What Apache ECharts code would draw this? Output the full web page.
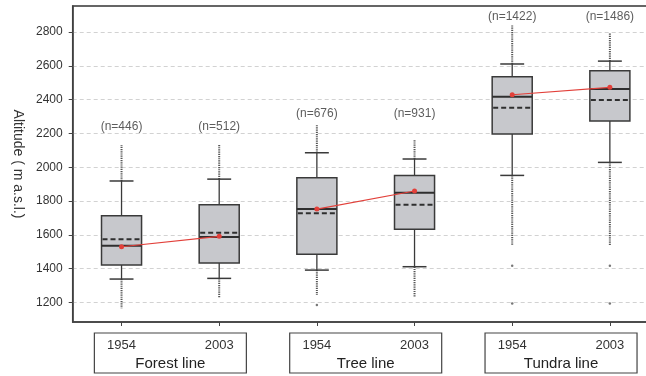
<!DOCTYPE html>
<html>
<head>
<meta charset="utf-8">
<script src="https://cdn.jsdelivr.net/npm/echarts@6/dist/echarts.min.js"></script>
<style>
html,body{margin:0;padding:0;background:#fff;overflow:hidden;}
#chart{width:662px;height:376px;}
</style>
</head>
<body>
<div id="chart"></div>
<script>
// ---- data ----
const categories   = ['1954', '2003', '1954', '2003', '1954', '2003'];
const groups       = ['Forest line', 'Tree line', 'Tundra line'];
const yTicks       = [1200, 1400, 1600, 1800, 2000, 2200, 2400, 2600, 2800];
const whiskerLow   = [1339, 1343, 1392, 1412, 1952, 2029];
const q1           = [1422, 1434, 1485, 1633, 2197, 2274];
const medianSolid  = [1536, 1587, 1753, 1850, 2417, 2463];
const meanDashed   = [1574, 1613, 1728, 1778, 2352, 2398];
const q3           = [1713, 1778, 1938, 1952, 2536, 2571];
const whiskerHigh  = [1919, 1930, 2086, 2049, 2611, 2628];
const outlierMin   = [1166, 1225, 1244, 1231, 1540, 1540];
const outlierMax   = [2132, 2132, 2254, 2161, 2841, 2798];
const isolatedOutliers = [[2, 1185], [4, 1418], [4, 1195], [5, 1418], [5, 1195]];
const redPoint     = [1530, 1592, 1753, 1860, 2429, 2473];
const nLabels      = ['(n=446)', '(n=512)', '(n=676)', '(n=931)', '(n=1422)', '(n=1486)'];
const nLabelY      = [2238, 2238, 2319, 2319, 2892, 2892];

const FONT = 'Liberation Sans, Arial, sans-serif';
const DARK = '#3a3a3a';

const boxData = categories.map((c, i) => [i, whiskerLow[i], q1[i], medianSolid[i], meanDashed[i], q3[i], whiskerHigh[i], outlierMin[i], outlierMax[i]]);

function renderBox(params, api) {
  const i = api.value(0);
  const band = api.size([1, 0])[0];
  const x = api.coord([i, 0])[0];
  const Y = v => api.coord([i, v])[1];
  const bw = band * 0.41, cw = band * 0.245;
  const wl = api.value(1), lq = api.value(2), md = api.value(3), mn = api.value(4),
        uq = api.value(5), wh = api.value(6), omin = api.value(7), omax = api.value(8);
  const solid = {stroke: DARK, lineWidth: 1.3};
  const dots = {stroke: '#555', lineWidth: 2, lineDash: [1.2, 1]};
  return {
    type: 'group',
    children: [
      {type: 'line', shape: {x1: x, y1: Y(wh), x2: x, y2: Y(omax)}, style: dots},
      {type: 'line', shape: {x1: x, y1: Y(wl), x2: x, y2: Y(omin)}, style: dots},
      {type: 'line', shape: {x1: x, y1: Y(uq), x2: x, y2: Y(wh)}, style: solid},
      {type: 'line', shape: {x1: x, y1: Y(lq), x2: x, y2: Y(wl)}, style: solid},
      {type: 'line', shape: {x1: x - cw / 2, y1: Y(wh), x2: x + cw / 2, y2: Y(wh)}, style: {stroke: DARK, lineWidth: 1.5}},
      {type: 'line', shape: {x1: x - cw / 2, y1: Y(wl), x2: x + cw / 2, y2: Y(wl)}, style: {stroke: DARK, lineWidth: 1.5}},
      {type: 'rect', shape: {x: x - bw / 2, y: Y(uq), width: bw, height: Y(lq) - Y(uq)},
        style: {fill: '#c7c8cc', stroke: DARK, lineWidth: 1.5}},
      {type: 'line', shape: {x1: x - bw / 2, y1: Y(md), x2: x + bw / 2, y2: Y(md)}, style: {stroke: '#2f2f2f', lineWidth: 2}},
      {type: 'line', shape: {x1: x - bw / 2 + 1, y1: Y(mn), x2: x + bw / 2, y2: Y(mn)}, style: {stroke: '#2f2f2f', lineWidth: 2, lineDash: [5, 3]}}
    ]
  };
}

const redSeries = groups.map((g, k) => ({
  type: 'line',
  name: g,
  data: [[2 * k, redPoint[2 * k]], [2 * k + 1, redPoint[2 * k + 1]]],
  symbol: 'circle',
  symbolSize: 5,
  lineStyle: {color: '#e2403a', width: 1.2},
  itemStyle: {color: '#e2403a'},
  z: 5,
  animation: false
}));

const chart = echarts.init(document.getElementById('chart'), null, {renderer: 'canvas'});
chart.setOption({
  animation: false,
  backgroundColor: '#fff',
  textStyle: {fontFamily: FONT},
  grid: {left: 72.7, top: 6, width: 586, height: 316, show: true, borderColor: '#333', borderWidth: 1.5, containLabel: false},
  xAxis: [
    {
      type: 'category', data: categories, boundaryGap: true,
      axisLine: {show: true, lineStyle: {color: '#444', width: 1.5}},
      axisTick: {show: true, alignWithLabel: true, length: 4, lineStyle: {color: '#444'}},
      axisLabel: {margin: 17, fontSize: 13, color: '#333', fontFamily: FONT},
      splitLine: {show: false}
    },
    {
      type: 'category', data: groups, position: 'bottom', boundaryGap: true,
      axisLine: {show: false}, axisTick: {show: false}, splitLine: {show: false},
      axisLabel: {margin: 11, fontSize: 15, color: '#222', fontFamily: FONT, width: 150, lineHeight: 17,
        borderColor: '#444', borderWidth: 1.2, padding: [22, 1, 1, 1], align: 'center'}
    }
  ],
  yAxis: {
    type: 'value', min: 1085, max: 2954,
    axisLine: {show: true, lineStyle: {color: '#444', width: 1.5}},
    axisTick: {show: true, length: 4, customValues: yTicks, lineStyle: {color: '#444'}},
    axisLabel: {customValues: yTicks, formatter: v => String(v), fontSize: 12, color: '#333', margin: 10, fontFamily: FONT},
    splitLine: {show: true, lineStyle: {color: '#d2d2d2', type: [4, 3], width: 1}},
    name: 'Altitude ( m a.s.l.)', nameLocation: 'middle', nameRotate: -90, nameGap: 47,
    nameTextStyle: {fontSize: 14, color: '#333', fontFamily: FONT}
  },
  series: [
    {type: 'custom', renderItem: renderBox, data: boxData, encode: {x: 0, y: [1, 2, 3, 4, 5, 6, 7, 8]}, z: 3},
    {type: 'scatter', data: isolatedOutliers, symbol: 'circle', symbolSize: 2.5, itemStyle: {color: '#555'}, z: 3},
    {type: 'scatter', data: categories.map((c, i) => [i, nLabelY[i]]), symbolSize: 0,
      label: {show: true, position: 'inside', formatter: p => nLabels[p.dataIndex], fontSize: 12, color: '#333', fontFamily: FONT}, z: 4},
    ...redSeries
  ]
});
</script>
</body>
</html>
